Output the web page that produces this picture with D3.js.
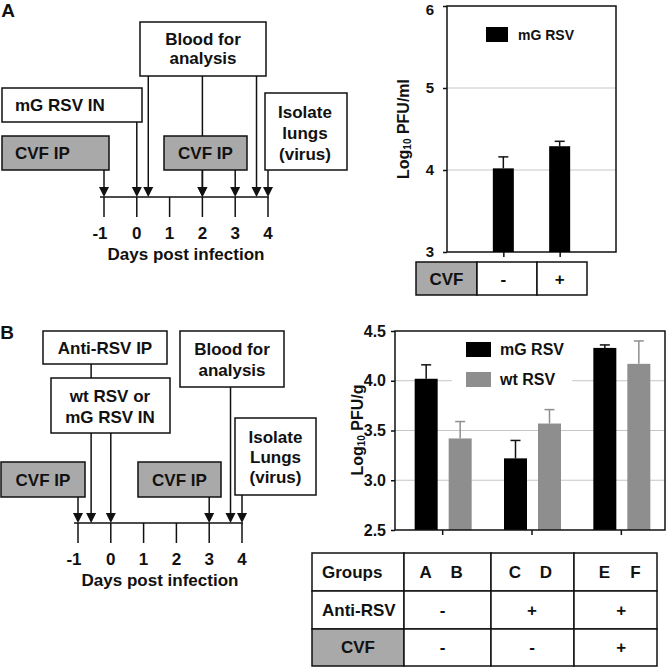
<!DOCTYPE html>
<html><head><meta charset="utf-8">
<script src="https://cdn.jsdelivr.net/npm/d3@7"></script>
<style>
html,body{margin:0;padding:0;background:#fff;}
svg{display:block;font-family:"Liberation Sans",Arial,Helvetica,sans-serif;font-weight:bold;}
</style></head>
<body><svg id="c" width="666" height="667"></svg>
<script>
// ---------- data ----------
const dayTicks = [-1, 0, 1, 2, 3, 4];
// panel A timeline events (days where arrows land)
const aCvfDays = [-1, 2, 3];
const aVirusDays = [0];
const aBloodDays = [0.35, 2, 3.65];
const aIsolateDays = [4];
// panel B timeline events
const bCvfDays = [-1, 3];
const bAntiDays = [-0.6];
const bVirusDays = [0];
const bBloodDays = [3.65];
const bIsolateDays = [4];

// panel A bar chart
const aCategories = ["-", "+"];
const aMgValues = [4.02, 4.29];
const aMgErrors = [0.14, 0.06];
const aYTicks = [3, 4, 5, 6];

// panel B bar chart
const bGroups = ["AB", "CD", "EF"];
const bGroupLetters = [["A", "B"], ["C", "D"], ["E", "F"]];
const bMgValues = [4.02, 3.22, 4.33];
const bMgErrors = [0.14, 0.18, 0.03];
const bWtValues = [3.42, 3.57, 4.17];
const bWtErrors = [0.17, 0.14, 0.23];
const bAntiRSV = ["-", "+", "+"];
const bCVF = ["-", "-", "+"];
const bYTicks = [2.5, 3.0, 3.5, 4.0, 4.5];

// ---------- style ----------
const INK = "#111";
const BOXGRAY = "#a9a9a9";
const BARGRAY = "#8e8e8e";
const GRID = "#c6c6c6";

const svg = d3.select("#c");

function box(g, x0, y0, x1, y1, fill) {
  g.append("rect").attr("x", x0).attr("y", y0).attr("width", x1 - x0).attr("height", y1 - y0)
    .attr("fill", fill || "#fff").attr("stroke", INK).attr("stroke-width", 1.5);
}
function txt(g, x, y, s, size, anchor) {
  return g.append("text").attr("x", x).attr("y", y).attr("dominant-baseline", "central")
    .attr("text-anchor", anchor || "middle").attr("font-size", size || 17).attr("fill", INK).text(s);
}
function vline(g, x, y0, y1) {
  g.append("line").attr("x1", x).attr("x2", x).attr("y1", y0).attr("y2", y1)
    .attr("stroke", INK).attr("stroke-width", 1.5);
}
function arrow(g, x, tipY) {
  g.append("path").attr("d", `M${x - 5},${tipY - 10}L${x + 5},${tipY - 10}L${x},${tipY}Z`).attr("fill", INK);
}
function timelineAxis(g, x, axisY) {
  const [r0, r1] = x.range();
  g.append("line").attr("x1", r0 - 4).attr("x2", r1 + 1).attr("y1", axisY).attr("y2", axisY)
    .attr("stroke", INK).attr("stroke-width", 1.5);
  dayTicks.forEach(d => {
    vline(g, x(d), axisY, axisY + 20);
    txt(g, x(d) + (d < 0 ? -4 : 0), axisY + 36, String(d), 17);
  });
  txt(g, (r0 + r1) / 2, axisY + 57, "Days post infection", 17);
}

// ---------- Panel A timeline ----------
{
  const g = svg.append("g");
  txt(g, 8, 10, "A", 19);
  const x = d3.scaleLinear().domain([-1, 4]).range([104, 268]);
  const axisY = 197;
  aBloodDays.forEach(d => vline(g, x(d), 76, axisY - 10));
  aVirusDays.forEach(d => vline(g, x(d), 122, axisY - 10));
  aCvfDays.forEach(d => vline(g, x(d), 170, axisY - 10));
  aIsolateDays.forEach(d => vline(g, x(d), 169, axisY - 10));
  [...aBloodDays, ...aVirusDays, ...aCvfDays, ...aIsolateDays].forEach(d => arrow(g, x(d), axisY));
  box(g, 140, 22, 266, 76);
  txt(g, 203, 39, "Blood for"); txt(g, 203, 58, "analysis");
  box(g, 2, 88, 142, 122);
  txt(g, 15, 105, "mG RSV IN", 17, "start");
  box(g, 2, 136, 109, 170, BOXGRAY);
  txt(g, 15, 153, "CVF IP", 17, "start");
  box(g, 164, 136, 247, 170, BOXGRAY);
  txt(g, 205.5, 153, "CVF IP");
  box(g, 265, 93, 347, 170);
  txt(g, 305, 112, "Isolate"); txt(g, 305, 133, "lungs"); txt(g, 305, 154, "(virus)");
  timelineAxis(g, x, axisY);
}

// ---------- Panel B timeline ----------
{
  const g = svg.append("g");
  txt(g, 7, 332, "B", 19);
  const x = d3.scaleLinear().domain([-1, 4]).range([78, 242]);
  const axisY = 523;
  bAntiDays.forEach(d => vline(g, x(d), 364, axisY - 10));
  bVirusDays.forEach(d => vline(g, x(d), 433, axisY - 10));
  bBloodDays.forEach(d => vline(g, x(d), 387, axisY - 10));
  bCvfDays.forEach(d => vline(g, x(d), 497, axisY - 10));
  bIsolateDays.forEach(d => vline(g, x(d), 495, axisY - 10));
  [...bAntiDays, ...bVirusDays, ...bBloodDays, ...bCvfDays, ...bIsolateDays].forEach(d => arrow(g, x(d), axisY));
  box(g, 43, 331, 167, 364);
  txt(g, 105, 348, "Anti-RSV IP");
  box(g, 51, 378, 170, 433);
  txt(g, 110, 396, "wt RSV or"); txt(g, 110, 417, "mG RSV IN");
  box(g, 180, 331, 284, 387);
  txt(g, 232, 349, "Blood for"); txt(g, 232, 370, "analysis");
  box(g, 1, 462, 85, 497, BOXGRAY);
  txt(g, 43, 480, "CVF IP");
  box(g, 138, 462, 221, 497, BOXGRAY);
  txt(g, 179.5, 480, "CVF IP");
  box(g, 235, 418, 316, 495);
  txt(g, 275.5, 437, "Isolate"); txt(g, 275.5, 457, "Lungs"); txt(g, 275.5, 477, "(virus)");
  timelineAxis(g, x, axisY);
}

function yLabel(g, cx, cy, unit) {
  const t = g.append("text").attr("transform", `translate(${cx},${cy}) rotate(-90)`)
    .attr("text-anchor", "middle").attr("dominant-baseline", "central").attr("font-size", 16).attr("fill", INK);
  t.append("tspan").text("Log");
  t.append("tspan").attr("font-size", 10).attr("dy", 4).text("10");
  t.append("tspan").attr("dy", -4).text(" " + unit);
}
function errorBar(g, cx, yTop, yErr, color) {
  g.append("line").attr("x1", cx).attr("x2", cx).attr("y1", yTop).attr("y2", yErr).attr("stroke", color).attr("stroke-width", 1.5);
  g.append("line").attr("x1", cx - 5).attr("x2", cx + 5).attr("y1", yErr).attr("y2", yErr).attr("stroke", color).attr("stroke-width", 1.5);
}

// ---------- Panel A bar chart ----------
{
  const g = svg.append("g");
  const L = 447, R = 616, T = 6, B = 252;
  const y = d3.scaleLinear().domain([3, 6]).range([B, T]);
  const x = d3.scalePoint().domain(aCategories).range([L, R]).padding(1);
  aYTicks.filter(v => v > 3 && v < 6).forEach(v => {
    g.append("line").attr("x1", L).attr("x2", R).attr("y1", y(v)).attr("y2", y(v)).attr("stroke", GRID).attr("stroke-width", 1);
  });
  g.append("rect").attr("x", L).attr("y", T).attr("width", R - L).attr("height", B - T).attr("fill", "none").attr("stroke", INK).attr("stroke-width", 1.5);
  const ya = g.append("g").attr("transform", `translate(${L},0)`).call(d3.axisLeft(y).tickValues(aYTicks).tickFormat(d3.format("d")).tickSize(4).tickPadding(9));
  ya.select(".domain").remove();
  ya.selectAll("line").attr("stroke", INK).attr("stroke-width", 1.5);
  ya.selectAll("text").attr("font-size", 15).attr("font-family", null).attr("fill", INK)
    .attr("dy", d => d === 6 ? "0.55em" : "0.32em");
  const xa = g.append("g").attr("transform", `translate(0,${B})`).call(d3.axisBottom(x).tickSize(5).tickFormat(""));
  xa.select(".domain").remove();
  xa.selectAll("line").attr("stroke", INK).attr("stroke-width", 1.5);
  const bw = 21;
  aCategories.forEach((c, i) => {
    const cx = x(c);
    errorBar(g, cx, y(aMgValues[i]), y(aMgValues[i] + aMgErrors[i]), INK);
    g.append("rect").attr("x", cx - bw / 2).attr("y", y(aMgValues[i])).attr("width", bw).attr("height", B - y(aMgValues[i])).attr("fill", "#000");
  });
  g.append("rect").attr("x", 486).attr("y", 27).attr("width", 22).attr("height", 15).attr("fill", "#000");
  txt(g, 518, 35, "mG RSV", 14, "start");
  yLabel(g, 403, 129, "PFU/ml");
  box(g, 416, 262, 477, 295, BOXGRAY);
  box(g, 477, 262, 537, 295);
  box(g, 537, 262, 587, 295);
  txt(g, 446.5, 279, "CVF", 17);
  aCategories.forEach(c => txt(g, x(c), 279, c, 17));
}

// ---------- Panel B bar chart ----------
{
  const g = svg.append("g");
  const L = 395, R = 665, T = 331, B = 530;
  const y = d3.scaleLinear().domain([2.5, 4.5]).range([B, T]);
  const x = d3.scaleBand().domain(bGroups).range([398, 666]);
  bYTicks.filter(v => v > 2.5 && v < 4.5).forEach(v => {
    g.append("line").attr("x1", L).attr("x2", R).attr("y1", y(v)).attr("y2", y(v)).attr("stroke", GRID).attr("stroke-width", 1);
  });
  const ya = g.append("g").attr("transform", `translate(${L},0)`).call(d3.axisLeft(y).tickValues(bYTicks).tickFormat(d3.format(".1f")).tickSize(4).tickPadding(5));
  ya.select(".domain").remove();
  ya.selectAll("line").attr("stroke", INK).attr("stroke-width", 1.5);
  ya.selectAll("text").attr("font-size", 16).attr("font-family", null).attr("fill", INK);
  const xa = g.append("g").attr("transform", `translate(0,${B})`).call(d3.axisBottom(x).tickSize(5).tickFormat(""));
  xa.select(".domain").remove();
  xa.selectAll("line").attr("stroke", INK).attr("stroke-width", 1.5);
  const bw = 23;
  bGroups.forEach((gname, i) => {
    const c = x(gname) + x.bandwidth() / 2;
    const xm = c - 5 - bw, xw = c + 6;
    errorBar(g, xm + bw / 2, y(bMgValues[i]), y(bMgValues[i] + bMgErrors[i]), INK);
    g.append("rect").attr("x", xm).attr("y", y(bMgValues[i])).attr("width", bw).attr("height", B - y(bMgValues[i])).attr("fill", "#000");
    errorBar(g, xw + bw / 2, y(bWtValues[i]), y(bWtValues[i] + bWtErrors[i]), BARGRAY);
    g.append("rect").attr("x", xw).attr("y", y(bWtValues[i])).attr("width", bw).attr("height", B - y(bWtValues[i])).attr("fill", BARGRAY);
  });
  g.append("rect").attr("x", 452).attr("y", 336).attr("width", 120).attr("height", 56).attr("fill", "#fff");
  g.append("rect").attr("x", 466).attr("y", 342).attr("width", 25).attr("height", 15).attr("fill", "#000");
  txt(g, 500, 349.5, "mG RSV", 16, "start");
  g.append("rect").attr("x", 466).attr("y", 372).attr("width", 25).attr("height", 15).attr("fill", BARGRAY);
  txt(g, 500, 379.5, "wt RSV", 16, "start");
  g.append("rect").attr("x", L).attr("y", T).attr("width", R - L).attr("height", B - T).attr("fill", "none").attr("stroke", INK).attr("stroke-width", 1.5);
  yLabel(g, 357, 430, "PFU/g");
  const cols = [312, 404, 491, 574, 657];
  const rows = [553, 591, 629, 666];
  for (let r = 0; r < 3; r++) for (let c = 0; c < 4; c++) {
    const fill = (r === 2 && c === 0) ? BOXGRAY : "#fff";
    box(g, cols[c], rows[r], cols[c + 1], rows[r + 1], fill);
  }
  const rc = r => (rows[r] + rows[r + 1]) / 2;
  txt(g, 322, rc(0), "Groups", 17, "start");
  txt(g, 322, rc(1), "Anti-RSV", 17, "start");
  txt(g, 358, rc(2), "CVF", 17);
  bGroups.forEach((gname, i) => {
    const c = x(gname) + x.bandwidth() / 2;
    txt(g, c - 17, rc(0), bGroupLetters[i][0], 17);
    txt(g, c + 14, rc(0), bGroupLetters[i][1], 17);
    txt(g, c, rc(1), bAntiRSV[i], 17);
    txt(g, c, rc(2), bCVF[i], 17);
  });
}
</script></body></html>
